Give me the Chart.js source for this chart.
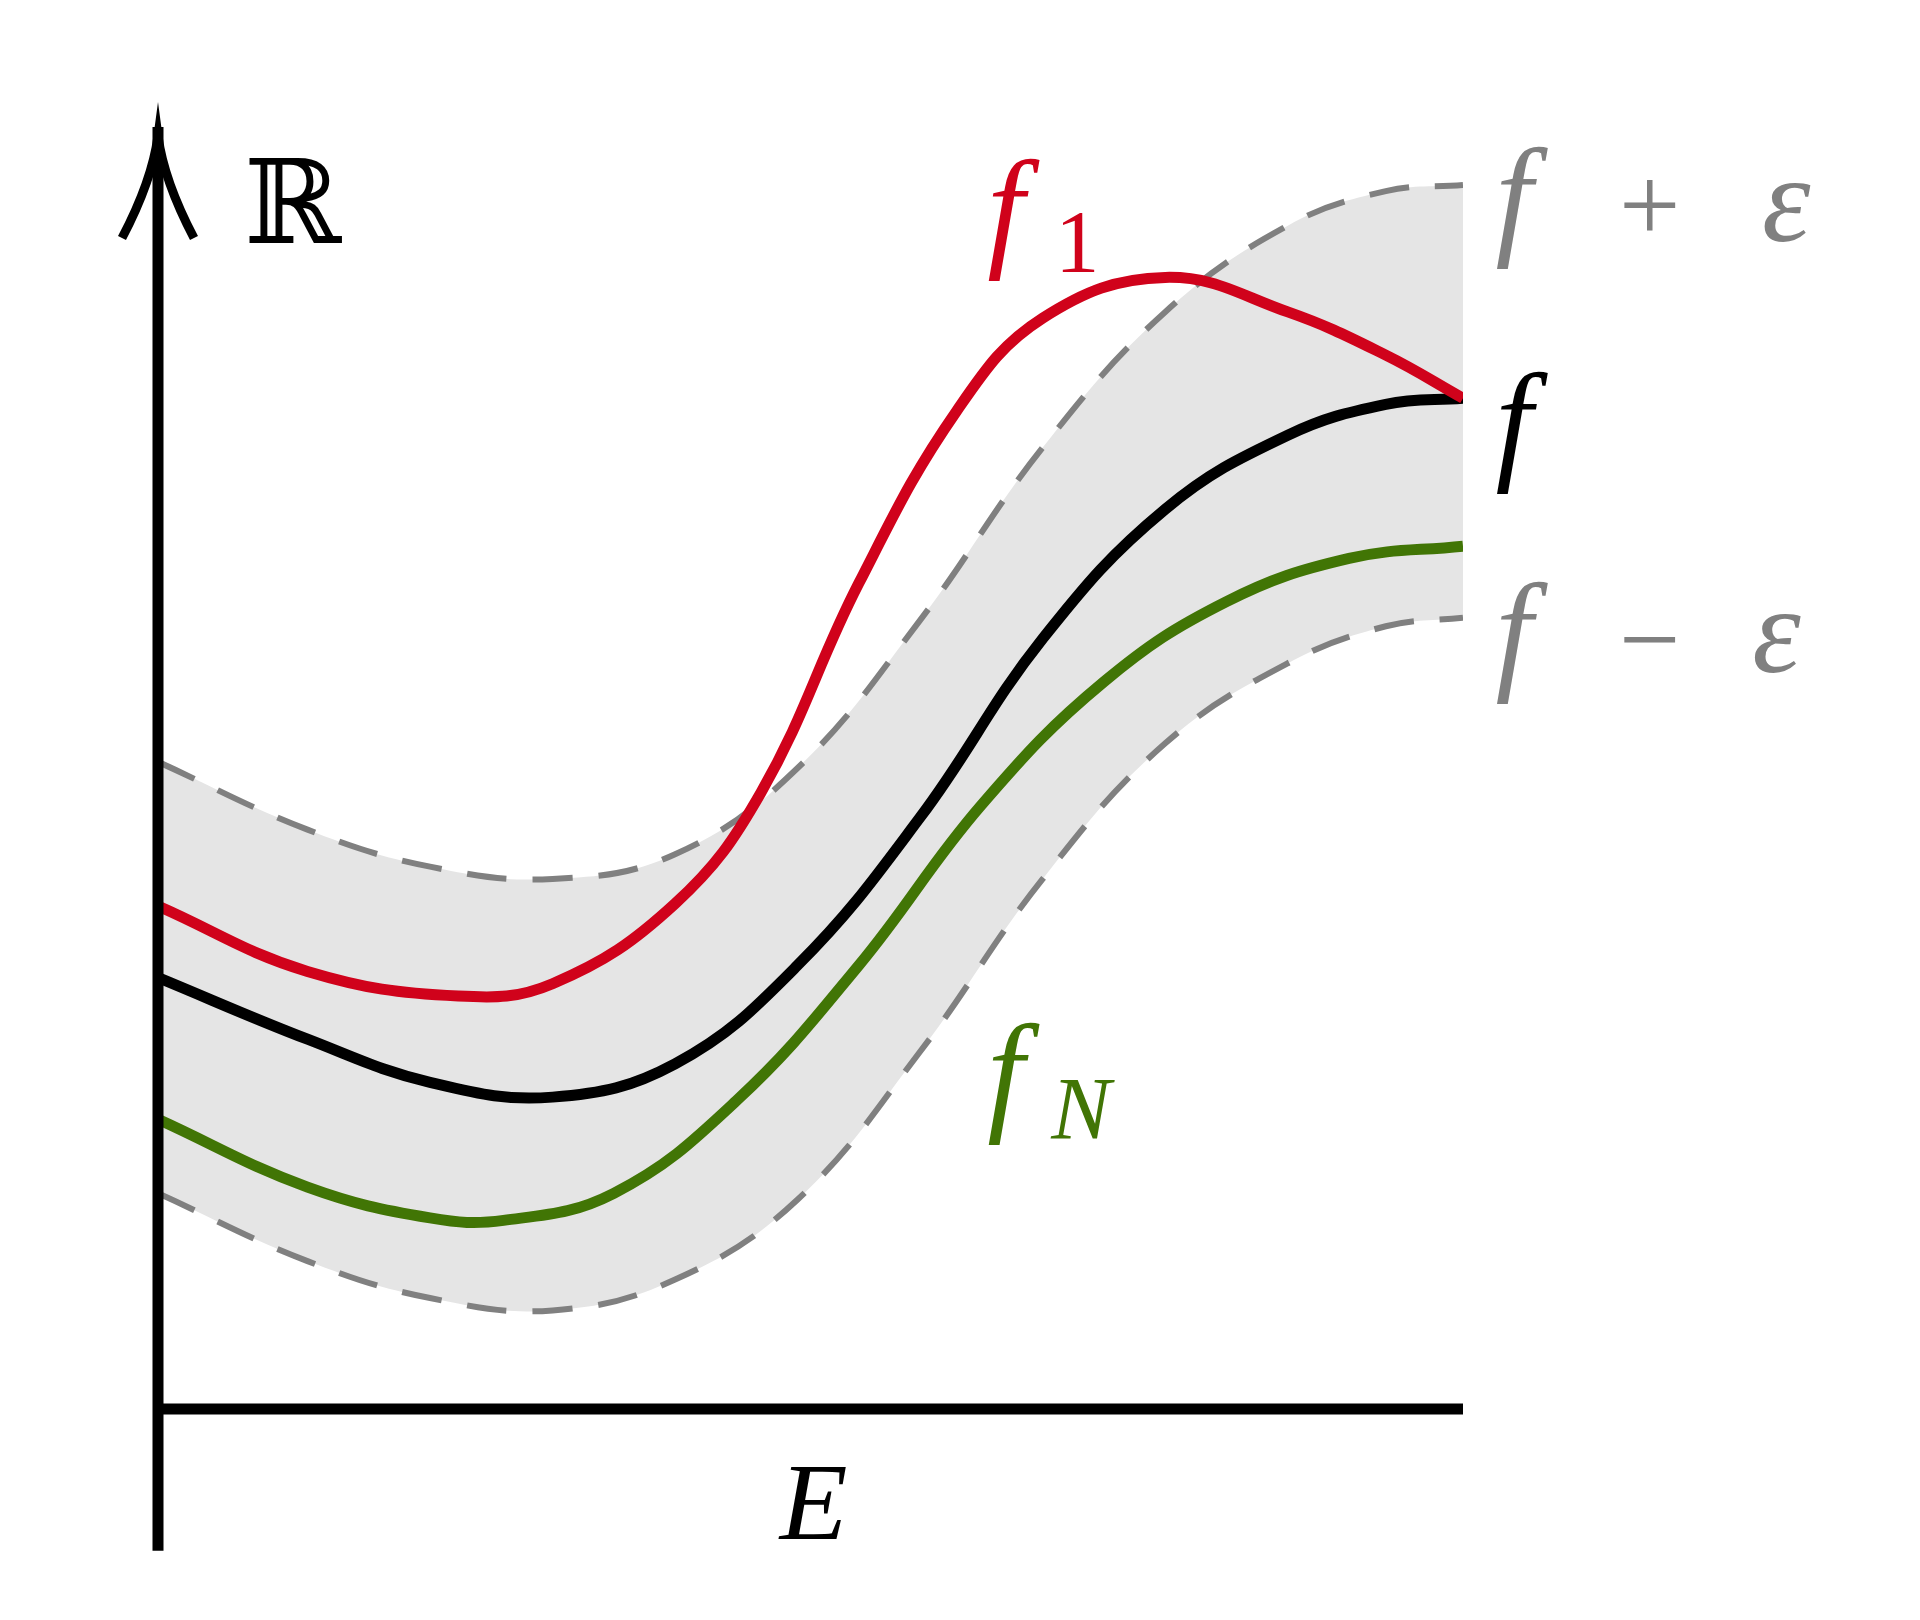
<!DOCTYPE html>
<html><head><meta charset="utf-8">
<script src="https://cdn.jsdelivr.net/npm/chart.js@4"></script>
<style>html,body{margin:0;background:#fff}#w{width:1920px;height:1620px}</style>
</head><body><div id="w"><canvas id="c"></canvas></div>
<script>
// x in domain units (0..1065), y in "height above axis" units
const upperX = [0,122,222,322,422,522,622,722,822,922,1002,1065];
const upperY = [525,470,440,430,450,520,640,780,890,960,988,993];
const lowerY = [175,120,90,80,105,170,290,430,540,605,635,642];
const fY     = [350,300,265,253,280,360,480,625,730,790,815,820];
const f1X = [0,122,245,322,422,492,572,652,722,822,922,1002,1065];
const f1Y = [408,355,335,345,410,500,670,810,885,918,890,855,820];
const fNX = [0,122,222,282,372,472,572,672,772,872,972,1065];
const fNY = [235,180,155,153,175,250,360,490,590,655,690,700];

const S = 1920/1556;
const pts=(xs,ys)=>xs.map((x,i)=>({x,y:ys[i]}));
const line={pointRadius:0,tension:0.4,borderJoinStyle:'round'};
const deco={id:'deco',
 afterDatasetsDraw(ch){
  const c=ch.ctx,xs=ch.scales.x,ys=ch.scales.y;
  const X=xs.getPixelForValue(0);
  c.save();c.strokeStyle='#000';c.lineWidth=11;c.lineCap='butt';
  c.beginPath();c.moveTo(X,ys.getPixelForValue(-115));c.lineTo(X,ys.getPixelForValue(1040));c.stroke();
  const Y=ys.getPixelForValue(0);
  c.beginPath();c.moveTo(X,Y);c.lineTo(xs.getPixelForValue(1065),Y);c.stroke();
  const T=ys.getPixelForValue(1053)+25;
  c.lineWidth=9;c.beginPath();
  c.moveTo(X-36,T+102);c.quadraticCurveTo(X-6,T+45,X,T);c.quadraticCurveTo(X+6,T+45,X+36,T+102);c.stroke();
  c.textBaseline='alphabetic';c.textAlign='left';
  const t=(s,x,y,sz,col,it)=>{c.fillStyle=col;c.font=(it?'italic ':'')+Math.round(sz*S)+'px "Liberation Serif","DejaVu Serif",serif';c.fillText(s,x*S,y*S);};
  t('ℝ',198,197,95,'#000',false);
  t('f',800,205,108,'#d0021b',true); t('1',855,220,72,'#d0021b',false);
  t('f',1212,195,108,'#808080',true); t('+',1312,195,88,'#808080',false); t('ε',1428,195,100,'#808080',true);
  t('f',1212,378,108,'#000',true);
  t('f',1212,548,108,'#808080',true); t('−',1312,548,88,'#808080',false); t('ε',1420,545,100,'#808080',true);
  t('f',800,905,108,'#417505',true); t('N',852,922,72,'#417505',true);
  t('E',632,1247,90,'#000',true);
  c.restore();
 }};
new Chart(document.getElementById('c'),{type:'scatter',
 data:{datasets:[
  {...line,data:pts(upperX,upperY),showLine:true,borderColor:'#808080',borderWidth:6,borderDash:[40,26],fill:'+1',backgroundColor:'#e5e5e5',order:5},
  {...line,data:pts(upperX,lowerY),showLine:true,borderColor:'#808080',borderWidth:6,borderDash:[40,26],fill:false,order:4},
  {...line,data:pts(upperX,fY),showLine:true,borderColor:'#000',borderWidth:11,fill:false,order:2},
  {...line,data:pts(fNX,fNY),showLine:true,borderColor:'#417505',borderWidth:11,fill:false,order:3},
  {...line,data:pts(f1X,f1Y),showLine:true,borderColor:'#d0021b',borderWidth:11,fill:false,order:1}
 ]},
 options:{responsive:true,maintainAspectRatio:false,animation:false,
  layout:{padding:{left:158,right:457,top:111,bottom:211}},
  plugins:{legend:{display:false},tooltip:{enabled:false}},
  scales:{x:{type:'linear',min:0,max:1065,display:false},y:{min:0,max:1053,display:false}}},
 plugins:[deco]});
</script></body></html>
